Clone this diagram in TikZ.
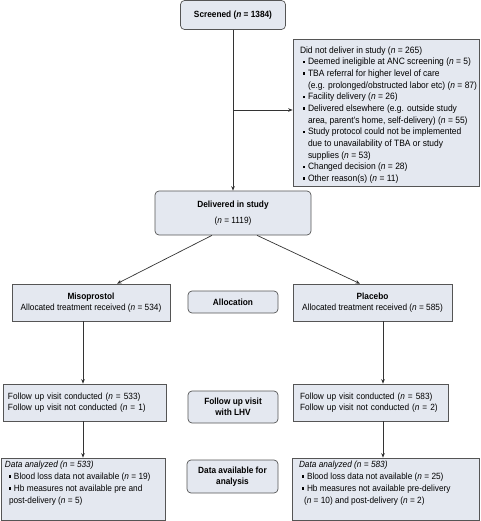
\documentclass[tikz,border=0pt]{standalone}
\usepackage{fontspec}
\setmainfont{Liberation Sans}[FakeStretch=0.92]
\usetikzlibrary{arrows.meta}
\definecolor{boxfill}{HTML}{E4E8F0}
\definecolor{boxline}{HTML}{555555}
\newcommand\nn{\textit{n}}
\newcommand\bul{\makebox[8pt][l]{\hspace*{3pt}\raisebox{1.8pt}{\rule{2.4pt}{2.4pt}}}}
\newcommand\ind{\hspace*{8pt}}
\begin{document}
\begin{tikzpicture}[x=1pt,y=-1pt, font=\fontsize{9}{11.65}\selectfont,
 box/.style={draw=boxline, fill=boxfill, line width=0.7pt, inner sep=0pt},
 rbox/.style={box, rounded corners=4pt},
 arr/.style={draw=black!80, line width=0.7pt, -{Stealth[length=4.5pt,width=3.6pt]}}]
\useasboundingbox (0,0) rectangle (480,521);

\node[rbox, minimum width=105pt, minimum height=29pt, align=center] (screen) at (233,15)
  {\textbf{Screened (\textit{n} = 1384)}};

\node[box, inner xsep=7pt] (excl) at (386,112.5)
  {\parbox[c][147pt][c]{172pt}{\fontsize{9.2}{11.65}\selectfont\raggedright
   \mbox{Did not deliver in study (\nn{} = 265)}\\
   \mbox{\bul Deemed ineligible at ANC screening (\nn{} = 5)}\\
   \mbox{\bul TBA referral for higher level of care}\\
   \mbox{\ind (e.g. prolonged/obstructed labor etc) (\nn{} = 87)}\\
   \mbox{\bul Facility delivery (\nn{} = 26)}\\
   \mbox{\bul Delivered elsewhere (e.g. outside study}\\
   \mbox{\ind area, parent's home, self-delivery) (\nn{} = 55)}\\
   \mbox{\bul Study protocol could not be implemented}\\
   \mbox{\ind due to unavailability of TBA or study}\\
   \mbox{\ind supplies (\nn{} = 53)}\\
   \mbox{\bul Changed decision (\nn{} = 28)}\\
   \mbox{\bul Other reason(s) (\nn{} = 11)}\par\vspace{-5pt}}};

\node[rbox, minimum width=156pt, minimum height=44pt, align=center] (deliv) at (233,213)
  {\textbf{Delivered in study}\\[4pt](\nn{} = 1119)};

\node[box, minimum width=158pt, minimum height=37pt, align=center] (miso) at (91,302.5)
  {\textbf{Misoprostol}\\Allocated treatment received (\nn{} = 534)};
\node[rbox, minimum width=90pt, minimum height=22pt, align=center] (alloc) at (233,302)
  {\textbf{Allocation}};
\node[box, minimum width=159pt, minimum height=37pt, align=center] (plac) at (372.5,302.5)
  {\textbf{Placebo}\\Allocated treatment received (\nn{} = 585)};

\node[box, minimum width=163pt, minimum height=37pt, inner xsep=5pt, text width=153pt, align=left] (fuL) at (84.5,402.5)
  {Follow up visit conducted (\nn{} = 533)\\Follow up visit not conducted (\nn{} = 1)};
\node[rbox, minimum width=90pt, minimum height=32pt, align=center, font=\fontsize{9}{11}\selectfont\bfseries] (fuM) at (233,407)
  {Follow up visit\\with LHV};
\node[box, minimum width=155pt, minimum height=37pt, inner xsep=7pt, text width=141pt, align=left] (fuR) at (370.5,402.5)
  {Follow up visit conducted (\nn{} = 583)\\Follow up visit not conducted (\nn{} = 2)};

\node[box, inner xsep=4pt, inner ysep=2.5pt] (daL) at (83,489)
  {\parbox[c][57pt][t]{156pt}{\raggedright\fontsize{9}{12.3}\selectfont
   \textit{Data analyzed (n = 533)}\\
   \hspace*{1pt}\bul Blood loss data not available (\nn{} = 19)\\
   \hspace*{1pt}\bul Hb measures not available pre and\\
   \hspace*{4pt}post-delivery (\nn{} = 5)}};
\node[rbox, minimum width=91pt, minimum height=33pt, align=center, font=\fontsize{9}{11.5}\selectfont\bfseries] (daM) at (232.5,476.5)
  {Data available for\\analysis};
\node[box, inner xsep=7pt, inner ysep=2.5pt] (daR) at (385.75,489)
  {\parbox[c][57pt][t]{173.5pt}{\raggedright\fontsize{9}{12.3}\selectfont
   \textit{Data analyzed (n = 583)}\\
   \bul Blood loss data not available (\nn{} = 25)\\
   \bul Hb measures not available pre-delivery\\
   \hspace*{5pt}(\nn{} = 10) and post-delivery (\nn{} = 2)}};

\coordinate (j) at (233,110);
\coordinate (cl) at (83,0);
\coordinate (cr) at (383,0);
\draw[arr] (screen.south) -- (deliv.north);
\draw[arr] (j) -- (j -| excl.west);
\draw[arr] ([xshift=-21pt]deliv.south) -- ([xshift=26pt]miso.north);
\draw[arr] ([xshift=24pt]deliv.south) -- ([xshift=-12.5pt]plac.north);
\draw[arr] (miso.south -| cl) -- (fuL.north -| cl);
\draw[arr] (fuL.south -| cl) -- (daL.north -| cl);
\draw[arr] (plac.south -| cr) -- (fuR.north -| cr);
\draw[arr] (fuR.south -| cr) -- (daR.north -| cr);
\end{tikzpicture}
\end{document}
